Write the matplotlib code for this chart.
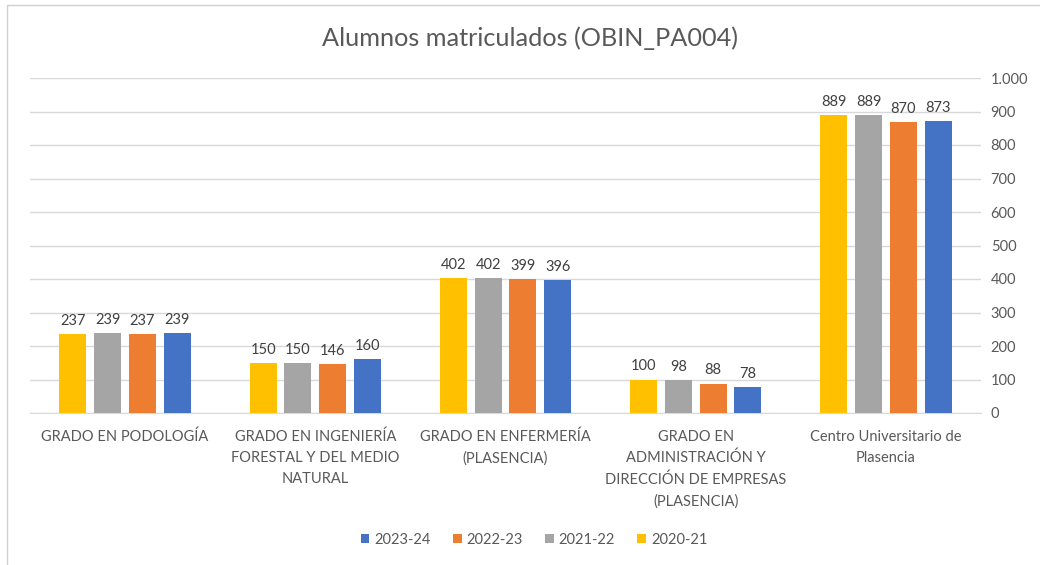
import matplotlib
matplotlib.use("Agg")
import matplotlib.pyplot as plt
import numpy as np
from matplotlib.patches import Rectangle

categories = [
    "GRADO EN PODOLOGÍA",
    "GRADO EN INGENIERÍA\nFORESTAL Y DEL MEDIO\nNATURAL",
    "GRADO EN ENFERMERÍA\n(PLASENCIA)",
    "GRADO EN\nADMINISTRACIÓN Y\nDIRECCIÓN DE EMPRESAS\n(PLASENCIA)",
    "Centro Universitario de\nPlasencia",
]
series_names = ["2020-21", "2021-22", "2022-23", "2023-24"]
v_2020_21 = [237, 150, 402, 100, 889]
v_2021_22 = [239, 150, 402, 98, 889]
v_2022_23 = [237, 146, 399, 88, 870]
v_2023_24 = [239, 160, 396, 78, 873]
colors = ["#FFC000", "#A5A5A5", "#ED7D31", "#4472C4"]
yticks = [0, 100, 200, 300, 400, 500, 600, 700, 800, 900, 1000]
ytick_labels = ["0", "100", "200", "300", "400", "500", "600", "700", "800", "900", "1.000"]

plt.rcParams['font.family'] = ['Lato', 'DejaVu Sans']
txt = "#595959"

fig = plt.figure(figsize=(10.4, 5.65), dpi=100)
ax = fig.add_axes([30/1040, 1-413/565, (981-30)/1040, (413-78)/565])

x = np.arange(len(categories))
w = 0.142
step = 0.183
data = [v_2020_21, v_2021_22, v_2022_23, v_2023_24]
bars_all = []
for i, (vals, col, name) in enumerate(zip(data, colors, series_names)):
    off = (i - 1.5) * step
    b = ax.bar(x + off, vals, w, color=col, label=name, zorder=3)
    bars_all.append(b)
    for xi, v in zip(x + off, vals):
        ax.text(xi, v + 18, str(v), ha="center", va="bottom", fontsize=10.5, color="#404040")

ax.set_xlim(-0.5, len(categories) - 0.5)
ax.set_ylim(0, 1000)
ax.yaxis.tick_right()
ax.set_yticks(yticks)
ax.set_yticklabels(ytick_labels, fontsize=10.5, color=txt)
ax.tick_params(axis="y", length=0, pad=7)
ax.set_xticks(x)
ax.set_xticklabels(categories, fontsize=10.5, color=txt, linespacing=1.63, va="top")
ax.tick_params(axis="x", length=0, pad=12)
ax.grid(axis="y", color="#D9D9D9", linewidth=1, zorder=0)
for s in ["top", "left", "right"]:
    ax.spines[s].set_visible(False)
ax.spines["bottom"].set_color("#D9D9D9")

fig.text(530/1040, 1-38/565, "Alumnos matriculados (OBIN_PA004)", ha="center", va="center",
         fontsize=18.2, color=txt)

handles = [bars_all[3], bars_all[2], bars_all[1], bars_all[0]]
labels = ["2023-24", "2022-23", "2021-22", "2020-21"]
fig.legend(handles, labels, loc="center", bbox_to_anchor=(534/1040, 1-540/565), ncol=4,
           frameon=False, fontsize=10.5, handlelength=0.6, handleheight=0.6,
           handletextpad=0.35, columnspacing=1.5, labelcolor=txt)

fig.add_artist(Rectangle((7/1040, -0.1), 1.2, 1 - 5/565 + 0.1, transform=fig.transFigure,
                         fill=False, edgecolor="#D0D0D0", linewidth=1))

fig.savefig("out.png", dpi=100)
